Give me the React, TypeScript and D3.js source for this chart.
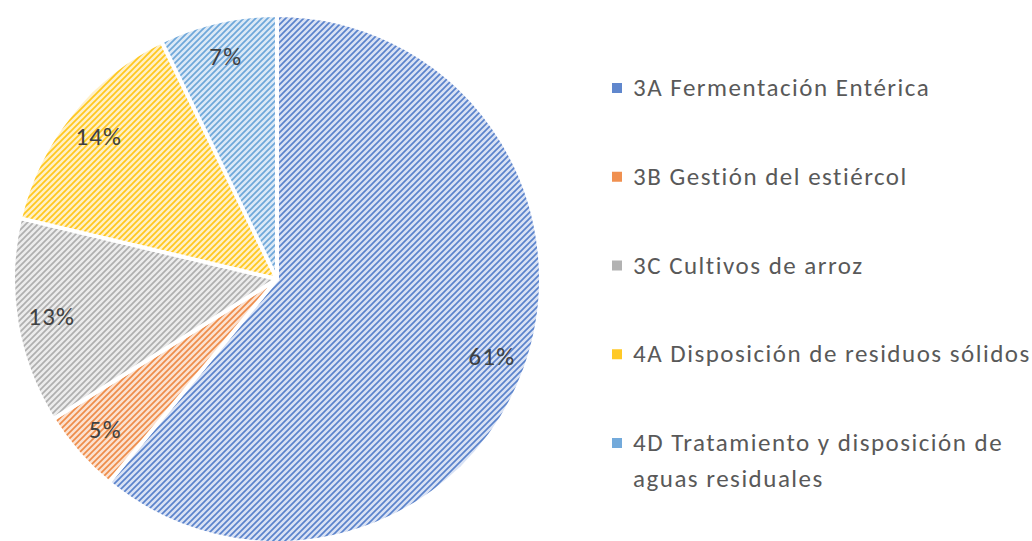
import { useEffect, useRef } from "react";
import * as d3 from "d3";

const categories = [
  "3A Fermentación Entérica",
  "3B Gestión del estiércol",
  "3C Cultivos de arroz",
  "4A Disposición de residuos sólidos",
  "4D Tratamiento y disposición de aguas residuales",
];
const shares = [61.0, 5.1, 12.6, 14.1, 7.2];
const pctLabels = ["61%", "5%", "13%", "14%", "7%"];
// legend lines, the last entry wraps
const legendLines = [
  ["3A Fermentación Entérica"],
  ["3B Gestión del estiércol"],
  ["3C Cultivos de arroz"],
  ["4A Disposición de residuos sólidos"],
  ["4D Tratamiento y disposición de", "aguas residuales"],
];
const colors = ["#4472c4", "#ed7d31", "#a5a5a5", "#ffc000", "#5b9bd5"];
const tints = ["#d9e2f4", "#fbe1d0", "#ececec", "#fff0c6", "#dbe9f6"];

const W = 1032;
const H = 541;
const FONT = "Calibri, Carlito, Lato, sans-serif";

export default function App() {
  const svgRef = useRef<SVGSVGElement>(null);

  useEffect(() => {
    if (!svgRef.current) return;
    const svg = d3.select(svgRef.current);
    svg.selectAll("*").remove();

    // hatch patterns (upward diagonal)
    const defs = svg.append("defs");
    colors.forEach((c, i) => {
      const p = defs
        .append("pattern")
        .attr("id", `hatch${i}`)
        .attr("patternUnits", "userSpaceOnUse")
        .attr("width", 6)
        .attr("height", 6);
      p.append("rect").attr("width", 6).attr("height", 6).attr("fill", tints[i]);
      p.append("path")
        .attr("d", "M-1,1 l2,-2 M0,6 l6,-6 M5,7 l2,-2")
        .attr("stroke", c)
        .attr("stroke-width", 1.7)
        .attr("stroke-opacity", 0.85);
    });

    const cx = 277;
    const cy = 279;
    const r = 264;

    const pie = d3
      .pie<number>()
      .sort(null)
      .value((d) => d);
    const arcs = pie(shares);
    const arc = d3.arc<d3.PieArcDatum<number>>().innerRadius(0).outerRadius(r);
    const labelArc = d3
      .arc<d3.PieArcDatum<number>>()
      .innerRadius(r * 0.865)
      .outerRadius(r * 0.865);

    const g = svg.append("g").attr("transform", `translate(${cx},${cy})`);

    g.selectAll("path.slice")
      .data(arcs)
      .enter()
      .append("path")
      .attr("class", "slice")
      .attr("d", arc)
      .attr("fill", (_d, i) => `url(#hatch${i})`)
      .attr("stroke", "#ffffff")
      .attr("stroke-width", 4)
      .attr("stroke-linejoin", "round");

    g.selectAll("text.pct")
      .data(arcs)
      .enter()
      .append("text")
      .attr("class", "pct")
      .attr("x", (d) => labelArc.centroid(d)[0])
      .attr("y", (d) => labelArc.centroid(d)[1])
      .attr("text-anchor", "middle")
      .attr("dominant-baseline", "central")
      .attr("fill", "#404040")
      .style("font-family", FONT)
      .style("font-size", "25px")
      .style("letter-spacing", "1.2px")
      .text((_d, i) => pctLabels[i]);

    // Legend
    const rowY = d3
      .scalePoint<string>()
      .domain(categories)
      .range([88, 443]);

    const legend = svg.append("g");
    const item = legend
      .selectAll("g")
      .data(categories)
      .enter()
      .append("g")
      .attr("transform", (d) => `translate(612,${rowY(d)})`);

    item
      .append("rect")
      .attr("x", 0)
      .attr("y", -5)
      .attr("width", 10)
      .attr("height", 10)
      .attr("fill", (_d, i) => colors[i])
      .attr("opacity", 0.85);

    item
      .append("text")
      .attr("x", 21)
      .attr("y", 8)
      .attr("fill", "#595959")
      .style("font-family", FONT)
      .style("font-size", "25px")
      .style("letter-spacing", "1.5px")
      .selectAll("tspan")
      .data((_d, i) => legendLines[i])
      .enter()
      .append("tspan")
      .attr("x", 21)
      .attr("dy", (_l, j) => (j === 0 ? 0 : 36))
      .text((l) => l);
  }, []);

  return (
    <svg
      ref={svgRef}
      width={W}
      height={H}
      style={{ position: "absolute", left: 0, top: 0, background: "#ffffff" }}
    />
  );
}
